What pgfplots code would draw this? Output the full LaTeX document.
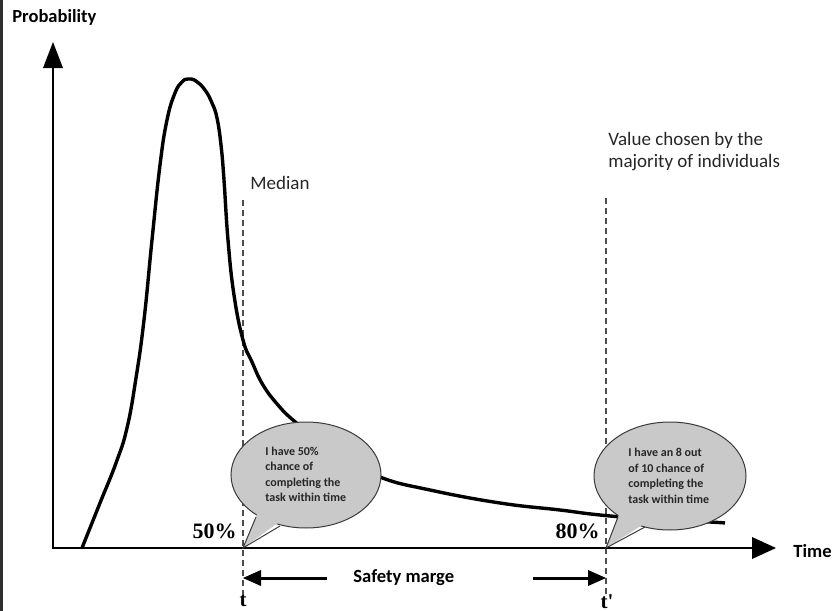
\documentclass[border=0pt]{standalone}
\usepackage{pgfplots}
\pgfplotsset{compat=1.18}
\usepackage{fontspec}
\setmainfont{Carlito}
\newfontfamily\serif{Liberation Serif}
\definecolor{bub}{HTML}{C9C9C9}
\definecolor{bubline}{HTML}{3A3A3A}
\begin{document}
\begin{tikzpicture}
\begin{axis}[
  scale only axis, width=416pt, height=305.5pt,
  xmin=0, xmax=832, ymin=0, ymax=611, y dir=reverse,
  hide axis, clip=false]
% frame for bounding box
\coordinate (BL) at (axis cs:0,611);
\coordinate (TR) at (axis cs:832,0);
\fill[black!82] (axis cs:0,0) rectangle (axis cs:3,611);
% dashed lines
\draw[densely dashed, black!70, line width=0.6pt] (axis cs:243,200) -- (axis cs:243,594);
\draw[densely dashed, black!70, line width=0.6pt] (axis cs:606,198) -- (axis cs:606,594);
% curve
\addplot[black, line width=1.7pt, smooth, tension=0.75] coordinates {
(82,548) (100,503) (116,463) (127,428) (136,378) (144,320) (152,240)
(160,165) (167,120) (175,93) (182,82) (188,79) (196,81) (205,90) (212,103)
(217,118) (221,145) (224,180) (228,240) (234,295) (243,340) (252,362) (263,385)
(278,405) (293,420) (315,437) (340,455) (380,477) (430,490) (500,503) (560,510)
(600,515) (650,519) (710,522) (725,523)
};
% axes
\draw[line width=1.3pt] (axis cs:53,65) -- (axis cs:53,548) -- (axis cs:755,548);
\fill (axis cs:53,42) -- (axis cs:43,68) -- (axis cs:63,68) -- cycle;
\fill (axis cs:776,548) -- (axis cs:752,537) -- (axis cs:752,559) -- cycle;
% bubble 1
\fill[bub] (axis cs:306,475) ellipse [x radius=37.5pt, y radius=26.5pt];
\draw[bubline, line width=0.5pt] (axis cs:306,475) ellipse [x radius=37.5pt, y radius=26.5pt];
\fill[bub] (axis cs:258,512) -- (axis cs:243,548) -- (axis cs:282,520) -- cycle;
\draw[bubline, line width=0.5pt] (axis cs:256,517) -- (axis cs:243,548) -- (axis cs:280,526);
% bubble 2
\fill[bub] (axis cs:670,476) ellipse [x radius=38pt, y radius=27pt];
\draw[bubline, line width=0.5pt] (axis cs:670,476) ellipse [x radius=38pt, y radius=27pt];
\fill[bub] (axis cs:620,512) -- (axis cs:606,548) -- (axis cs:647,522) -- cycle;
\draw[bubline, line width=0.5pt] (axis cs:618,517) -- (axis cs:606,548) -- (axis cs:645,527);
% bubble texts
\node[anchor=west, align=left, inner sep=0pt, font=\fontsize{6}{7.75}\selectfont\bfseries, text=black!85]
  at (axis cs:265,474.5) {I have 50\%\\chance of\\completing the\\task within time};
\node[anchor=west, align=left, inner sep=0pt, font=\fontsize{6}{7.75}\selectfont\bfseries, text=black!85]
  at (axis cs:628,476) {I have an 8 out\\of 10 chance of\\completing the\\task within time};
% percent labels
\node[anchor=east, inner sep=0pt, font=\fontsize{11}{11}\serif\bfseries] at (axis cs:237,531) {50\%};
\node[anchor=east, inner sep=0pt, font=\fontsize{11}{11}\serif\bfseries] at (axis cs:600,531) {80\%};
% safety marge arrows
\draw[line width=1.5pt] (axis cs:327,578) -- (axis cs:258,578);
\fill (axis cs:243,578) -- (axis cs:261,570) -- (axis cs:261,586) -- cycle;
\draw[line width=1.5pt] (axis cs:533,578) -- (axis cs:590,578);
\fill (axis cs:606,578) -- (axis cs:588,570) -- (axis cs:588,586) -- cycle;
\node[anchor=west, inner sep=0pt, font=\fontsize{9.3}{11}\selectfont\bfseries] at (axis cs:353,578) {Safety marge};
% t labels
\node[anchor=north, inner sep=0pt, font=\fontsize{10.5}{10.5}\serif\bfseries] at (axis cs:243,594) {t};
\node[anchor=north, inner sep=0pt, font=\fontsize{10.5}{10.5}\serif\bfseries] at (axis cs:607,594) {t'};
% texts
\node[anchor=west, inner sep=0pt, font=\fontsize{9.25}{11}\selectfont\bfseries] at (axis cs:12,17) {Probability};
\node[anchor=west, inner sep=0pt, font=\fontsize{9.3}{11}\selectfont\bfseries] at (axis cs:793,551) {Time};
\node[anchor=west, inner sep=0pt, font=\fontsize{9.5}{11}\selectfont, text=black!85] at (axis cs:250,183) {Median};
\node[anchor=west, align=left, inner sep=0pt, font=\fontsize{9.5}{11}\selectfont, text=black!85] at (axis cs:608,152) {Value chosen by the\\majority of individuals};
\end{axis}
\pgfresetboundingbox
\path[use as bounding box] (BL) rectangle (TR);
\end{tikzpicture}
\end{document}
